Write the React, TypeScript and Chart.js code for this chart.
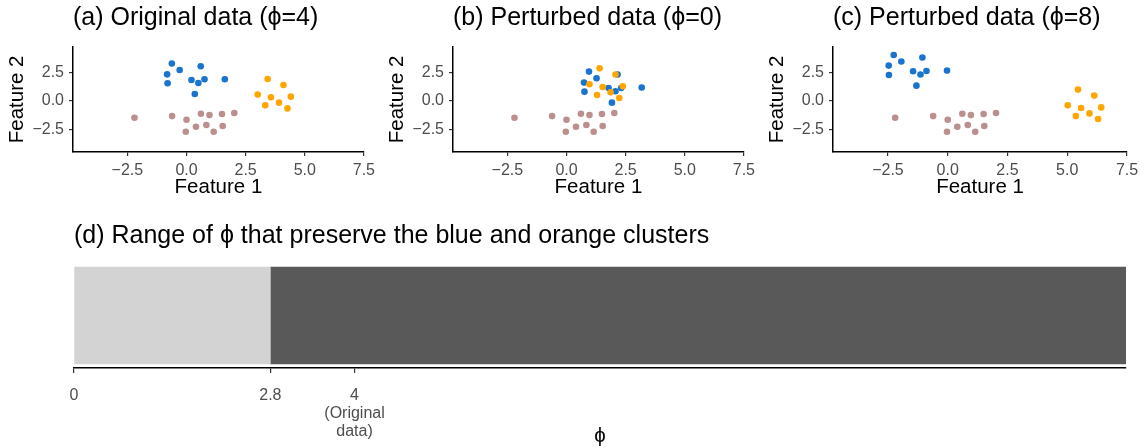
import React, { useEffect, useRef } from 'react';
import { Chart, registerables } from 'chart.js';

Chart.register(...registerables);

const FONT = "'Liberation Sans', Arial, Helvetica, sans-serif";

// Shared brown cluster (same in every panel)
const brownX = [-2.2, -0.61, 0.0, 0.61, 0.97, 1.5, 2.02, 0.4, 0.84, 1.53, -0.03, 1.15];
const brownY = [-1.47, -1.33, -1.65, -1.12, -1.24, -1.15, -1.06, -2.27, -2.12, -2.21, -2.71, -2.71];

// (a) original data
const blueAX = [-0.62, -0.29, -0.82, -0.8, 0.6, 0.21, 0.5, 0.76, 0.35, 1.62];
const blueAY = [3.31, 2.74, 2.36, 1.57, 3.07, 1.86, 1.59, 1.92, 0.62, 1.92];
const orangeAX = [3.43, 4.1, 3.01, 3.57, 4.41, 3.33, 3.91, 4.27];
const orangeAY = [1.95, 1.42, 0.57, 0.33, 0.39, -0.38, -0.14, -0.65];

// (b) perturbed, phi = 0
const blueBX = [0.95, 1.27, 0.74, 0.76, 2.16, 1.78, 2.07, 2.31, 1.92, 3.18];
const blueBY = [2.6, 2.01, 1.63, 0.83, 2.34, 1.15, 0.86, 1.15, -0.14, 1.19];
const orangeBX = [1.4, 2.07, 0.97, 1.53, 2.38, 1.29, 1.86, 2.23];
const orangeBY = [2.89, 2.34, 1.48, 1.24, 1.3, 0.53, 0.77, 0.27];

// (c) perturbed, phi = 8
const blueCX = [-2.26, -1.94, -2.47, -2.46, -1.06, -1.45, -1.14, -0.89, -1.31, -0.03];
const blueCY = [4.07, 3.49, 3.13, 2.3, 3.84, 2.63, 2.34, 2.65, 1.36, 2.69];
const orangeCX = [5.45, 6.13, 5.02, 5.58, 6.42, 5.36, 5.93, 6.29];
const orangeCY = [1.01, 0.48, -0.38, -0.62, -0.56, -1.33, -1.09, -1.59];

const xTickValues = [-2.5, 0, 2.5, 5, 7.5];
const xTickLabels = ['\u22122.5', '0.0', '2.5', '5.0', '7.5'];
const yTickValues = [-2.5, 0, 2.5];
const yTickLabels = ['\u22122.5', '0.0', '2.5'];

// (d) range of phi
const phiLow = [0, 2.8];
const phiHigh = [2.8, 15];
const phiTickValues = [0, 2.8, 4];
const phiTickLabels: string[][] = [['0'], ['2.8'], ['4', '(Original', 'data)']];

const BLUE = '#1874CD';
const ORANGE = '#FFA500';
const BROWN = '#BC8F8F';

const zip = (xs: number[], ys: number[]) => xs.map((x, i) => ({ x, y: ys[i] }));

function ScatterPanel(props: { left: number; width: number; title: string; bx: number[]; by: number[]; ox: number[]; oy: number[] }) {
  const ref = useRef<HTMLCanvasElement>(null);
  useEffect(() => {
    const chart = new Chart(ref.current as HTMLCanvasElement, {
      type: 'scatter',
      data: {
        datasets: [
          { data: zip(props.ox, props.oy), backgroundColor: ORANGE, borderWidth: 0, pointRadius: 3.3 },
          { data: zip(props.bx, props.by), backgroundColor: BLUE, borderWidth: 0, pointRadius: 3.3 },
          { data: zip(brownX, brownY), backgroundColor: BROWN, borderWidth: 0, pointRadius: 3.3 },
        ],
      },
      options: {
        animation: false,
        responsive: false,
        layout: { padding: { left: 0, right: props.width - 73 - 294, top: 0, bottom: 0 } },
        plugins: {
          legend: { display: false },
          tooltip: { enabled: false },
          title: {
            display: true,
            text: props.title,
            align: 'start',
            fullSize: false,
            color: '#000',
            font: { size: 25, family: FONT, weight: 'normal' },
            padding: { top: 3, bottom: 13.7 },
          },
        },
        scales: {
          x: {
            type: 'linear',
            min: -4.8,
            max: 7.5,
            afterBuildTicks: (s: any) => { s.ticks = xTickValues.map((v) => ({ value: v })); },
            afterFit: (s: any) => { s.height = 48; },
            ticks: {
              autoSkip: false,
              maxRotation: 0,
              padding: 5,
              color: '#4D4D4D',
              font: { size: 16, family: FONT },
              callback: (_v: any, i: number) => xTickLabels[i],
            },
            grid: { drawOnChartArea: false, drawTicks: true, tickLength: 4, color: '#333333', lineWidth: 1.2 },
            border: { display: true, color: '#000', width: 1.5 },
            title: { display: true, text: 'Feature 1', color: '#000', font: { size: 20.5, family: FONT }, padding: { top: 0, bottom: 0 } },
          },
          y: {
            type: 'linear',
            min: -4.5,
            max: 4.8,
            afterBuildTicks: (s: any) => { s.ticks = yTickValues.map((v) => ({ value: v })); },
            afterFit: (s: any) => { s.width = 73; },
            ticks: {
              autoSkip: false,
              padding: 5,
              color: '#4D4D4D',
              font: { size: 16, family: FONT },
              callback: (_v: any, i: number) => yTickLabels[i],
            },
            grid: { drawOnChartArea: false, drawTicks: true, tickLength: 4, color: '#333333', lineWidth: 1.2 },
            border: { display: true, color: '#000', width: 1.5 },
            title: { display: true, text: 'Feature 2', color: '#000', font: { size: 20.5, family: FONT }, padding: { top: 5.2, bottom: 0 } },
          },
        },
      } as any,
    });
    return () => chart.destroy();
  }, []);
  return (
    <canvas ref={ref} width={props.width} height={200} style={{ position: 'absolute', left: props.left, top: 0, width: props.width, height: 200 }} />
  );
}

function RangePanel() {
  const ref = useRef<HTMLCanvasElement>(null);
  useEffect(() => {
    const chart = new Chart(ref.current as HTMLCanvasElement, {
      type: 'bar',
      data: {
        labels: [''],
        datasets: [
          { data: [phiLow as any], backgroundColor: '#D3D3D3', borderWidth: 0, barThickness: 97, grouped: false } as any,
          { data: [phiHigh as any], backgroundColor: '#595959', borderWidth: 0, barThickness: 97, grouped: false } as any,
        ],
      },
      options: {
        indexAxis: 'y',
        animation: false,
        responsive: false,
        layout: { padding: { left: 74, right: 19, top: 0, bottom: 0 } },
        plugins: {
          legend: { display: false },
          tooltip: { enabled: false },
          title: {
            display: true,
            text: '(d) Range of \u03D5 that preserve the blue and orange clusters',
            align: 'start',
            fullSize: false,
            color: '#000',
            font: { size: 25, family: FONT, weight: 'normal' },
            padding: { top: 21, bottom: 12 },
          },
        },
        scales: {
          y: { display: false },
          x: {
            type: 'linear',
            min: 0,
            max: 15,
            afterBuildTicks: (s: any) => { s.ticks = phiTickValues.map((v) => ({ value: v })); },
            afterFit: (s: any) => { s.height = 80; },
            ticks: {
              autoSkip: false,
              maxRotation: 0,
              padding: 13,
              color: '#4D4D4D',
              font: { size: 16, family: FONT, lineHeight: 1.15 },
              callback: (_v: any, i: number) => phiTickLabels[i],
            },
            grid: { drawOnChartArea: false, drawTicks: true, tickLength: 5, color: '#333333', lineWidth: 1.2 },
            border: { display: true, color: '#000', width: 1.5 },
            title: { display: true, text: '\u03D5', color: '#000', font: { size: 20.5, family: FONT, lineHeight: 1.0 }, padding: { top: 0, bottom: 1 } },
          },
        },
      } as any,
    });
    return () => chart.destroy();
  }, []);
  return <canvas ref={ref} width={1145} height={248} style={{ position: 'absolute', left: 0, top: 200, width: 1145, height: 248 }} />;
}

export default function App() {
  return (
    <div style={{ position: 'absolute', left: 0, top: 0, width: 1145, height: 448, background: '#fff', overflow: 'hidden' }}>
      <ScatterPanel left={0} width={380} title={'(a) Original data (\u03D5=4)'} bx={blueAX} by={blueAY} ox={orangeAX} oy={orangeAY} />
      <ScatterPanel left={380} width={380} title={'(b) Perturbed data (\u03D5=0)'} bx={blueBX} by={blueBY} ox={orangeBX} oy={orangeBY} />
      <ScatterPanel left={760} width={385} title={'(c) Perturbed data (\u03D5=8)'} bx={blueCX} by={blueCY} ox={orangeCX} oy={orangeCY} />
      <RangePanel />
    </div>
  );
}
